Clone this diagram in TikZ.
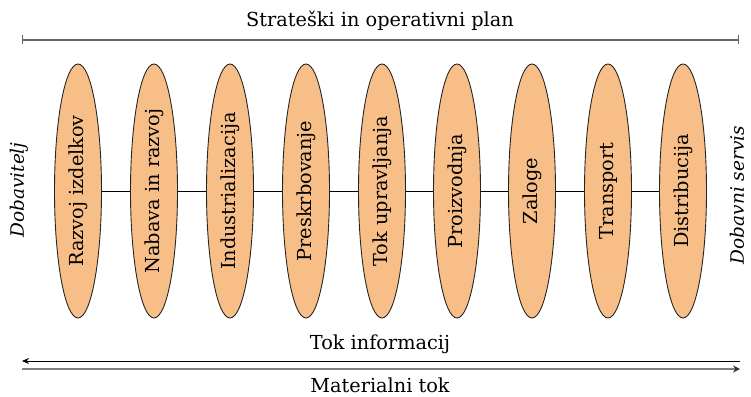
\documentclass[tikz,border=0pt]{standalone}
\usepackage{fontspec}
\setmainfont{DejaVu Serif}
\usetikzlibrary{shapes.geometric,arrows.meta}
\definecolor{elfill}{RGB}{247,191,135}
\definecolor{topgray}{RGB}{100,100,100}
\definecolor{flowgray}{RGB}{128,128,128}
\begin{document}
\begin{tikzpicture}[x=1pt,y=-1pt,
  stage/.style={ellipse,draw=black!85,line width=0.9pt,fill=elfill,minimum width=47pt,minimum height=254pt,inner sep=0pt},
  lbl/.style={font=\fontsize{19.3}{22}\selectfont},
  sidelbl/.style={font=\fontsize{18.5}{22}\selectfont\itshape,rotate=90,inner sep=0pt},
  link/.style={draw=black,line width=0.8pt}]
\useasboundingbox (0,0) rectangle (751,396);
\node[lbl] (plan) at (380,21) {Strateški in operativni plan};
\coordinate (pl) at (22,40);
\coordinate (pr) at (739,40);
\draw[topgray,line width=1.3pt,{Bar[width=9pt]}-{Bar[width=9pt]}] (pl) -- (pr);
\foreach \i/\x/\t in {1/78/Razvoj izdelkov,2/154/Nabava in razvoj,3/230/Industrializacija,4/306/Preskrbovanje,5/382/Tok upravljanja,6/457/Proizvodnja,7/532/Zaloge,8/608/Transport,9/683/Distribucija}{
  \node[stage] (e\i) at (\x,191) {};
  \node[lbl,rotate=90] (t\i) at (\x,191) {\t};
}
\foreach \a/\b in {1/2,2/3,3/4,4/5,5/6,6/7,7/8,8/9}{
  \draw[link] (e\a.east) -- (e\b.west);
}
\node[sidelbl] (dob) at (19,190) {Dobavitelj};
\node[sidelbl] (serv) at (737,195) {Dobavni servis};
\node[lbl] (info) at (380,344) {Tok informacij};
\node[lbl] (mat) at (380,385) {Materialni tok};
\coordinate (il) at (22,361);
\coordinate (ir) at (740,361);
\coordinate (ml) at (22,369);
\coordinate (mr) at (740,369);
\draw[black,line width=0.9pt,-{Stealth[length=7pt,width=6pt]}] (ir) -- (il);
\draw[flowgray,line width=2pt,-{Stealth[length=7pt,width=7pt,color=black!80]}] (ml) -- (mr);
\end{tikzpicture}
\end{document}
